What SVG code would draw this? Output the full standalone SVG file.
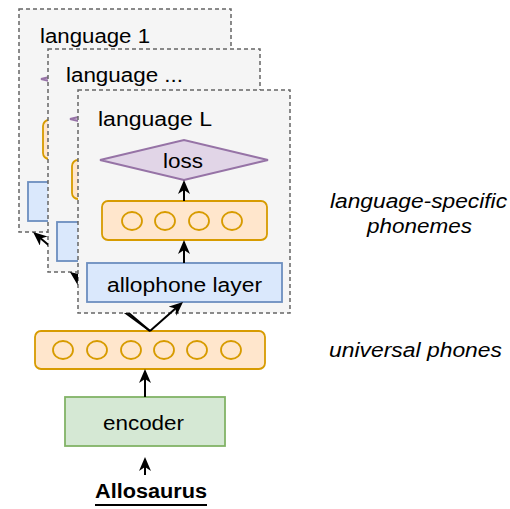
<svg xmlns="http://www.w3.org/2000/svg" width="510" height="509" viewBox="0 0 510 509">
<style>
.frame{fill:#f5f5f5;stroke:#666666;stroke-width:1.5;stroke-dasharray:4 3}
.orange{fill:#ffe6cc;stroke:#d79b00;stroke-width:1.8}
.circ{fill:none;stroke:#d79b00;stroke-width:1.8}
.blue{fill:#dae8fc;stroke:#6c8ebf;stroke-width:1.8}
.green{fill:#d5e8d4;stroke:#82b366;stroke-width:1.8}
.purple{fill:#e1d5e7;stroke:#9673a6;stroke-width:1.8}
.t{font-family:"Liberation Sans",Arial,Helvetica,sans-serif;font-size:20px;fill:#000}
.it{font-style:italic}
.b{font-weight:bold}
.edge{fill:none;stroke:#000;stroke-width:2}
</style>
<defs>
<marker id="arr" viewBox="0 0 14 12" refX="10" refY="6" markerWidth="14" markerHeight="12" markerUnits="userSpaceOnUse" orient="auto">
<path d="M0,0 L14,6 L0,12 L4,6 Z" fill="#000"/>
</marker>
<mask id="m1" maskUnits="userSpaceOnUse" x="0" y="0" width="510" height="509">
<rect x="0" y="0" width="510" height="509" fill="#fff"/>
<rect x="48" y="49" width="212" height="223" fill="#000"/>
<rect x="78" y="90" width="212" height="223" fill="#000"/>
</mask>
<mask id="m2" maskUnits="userSpaceOnUse" x="0" y="0" width="510" height="509">
<rect x="0" y="0" width="510" height="509" fill="#fff"/>
<rect x="78" y="90" width="212" height="223" fill="#000"/>
</mask>
</defs>

<g id="frame-language-1">
<rect class="frame" x="19" y="9" width="212" height="223"/>
<text class="t" x="40" y="43" textLength="110" lengthAdjust="spacingAndGlyphs">language 1</text>
<polygon class="purple" points="41,79 125,59 209,79 125,99"/>
<rect class="orange" x="43" y="120" width="165" height="39" rx="6"/>
<rect class="blue" x="28" y="182" width="195" height="39"/>
</g>

<g id="frame-language-dots">
<rect class="frame" x="48" y="49" width="212" height="223"/>
<text class="t" x="66" y="82" textLength="117" lengthAdjust="spacingAndGlyphs">language ...</text>
<polygon class="purple" points="70,119 154,99 238,119 154,139"/>
<rect class="orange" x="72" y="160" width="165" height="39" rx="6"/>
<rect class="blue" x="57" y="222" width="195" height="39"/>
</g>

<g id="frame-language-L">
<rect class="frame" x="78" y="90" width="212" height="223"/>
<text class="t" x="98" y="126" textLength="114" lengthAdjust="spacingAndGlyphs">language L</text>
</g>

<g id="loss">
<polygon class="purple" points="100,160 184,140 268,160 184,180"/>
<text class="t" x="163" y="168" textLength="40" lengthAdjust="spacingAndGlyphs">loss</text>
</g>

<g id="phoneme-layer">
<rect class="orange" x="102" y="201" width="165" height="39" rx="6"/>
<ellipse class="circ" cx="132" cy="221" rx="10" ry="9"/>
<ellipse class="circ" cx="165" cy="221" rx="10" ry="9"/>
<ellipse class="circ" cx="199" cy="221" rx="10" ry="9"/>
<ellipse class="circ" cx="232" cy="221" rx="10" ry="9"/>
</g>

<g id="allophone-layer">
<rect class="blue" x="87" y="263" width="195" height="39"/>
<text class="t" x="107" y="292" textLength="155" lengthAdjust="spacingAndGlyphs">allophone layer</text>
</g>

<g id="universal-phones">
<rect class="orange" x="35" y="331" width="230" height="38" rx="6"/>
<ellipse class="circ" cx="63" cy="350" rx="10" ry="9"/>
<ellipse class="circ" cx="97" cy="350" rx="10" ry="9"/>
<ellipse class="circ" cx="131" cy="350" rx="10" ry="9"/>
<ellipse class="circ" cx="164" cy="350" rx="10" ry="9"/>
<ellipse class="circ" cx="197" cy="350" rx="10" ry="9"/>
<ellipse class="circ" cx="231" cy="350" rx="10" ry="9"/>
</g>

<g id="encoder">
<rect class="green" x="65" y="397" width="160" height="49"/>
<text class="t" x="103" y="430" textLength="81" lengthAdjust="spacingAndGlyphs">encoder</text>
</g>

<g id="allosaurus">
<text class="t b" x="95" y="498" textLength="112" lengthAdjust="spacingAndGlyphs">Allosaurus</text>
<line x1="95" y1="505" x2="207" y2="505" stroke="#000" stroke-width="2"/>
</g>

<g id="annotations">
<text class="t it" x="330" y="208" textLength="177" lengthAdjust="spacingAndGlyphs">language-specific</text>
<text class="t it" x="367" y="233" textLength="105" lengthAdjust="spacingAndGlyphs">phonemes</text>
<text class="t it" x="329" y="357" textLength="173" lengthAdjust="spacingAndGlyphs">universal phones</text>
</g>

<g id="connectors">
<path class="edge" d="M150,331 L36.1,234.6" marker-end="url(#arr)" mask="url(#m1)"/>
<path class="edge" d="M150,331 L73.2,274.4" marker-end="url(#arr)" mask="url(#m2)"/>
<path class="edge" d="M150,331 L180,304.6" marker-end="url(#arr)"/>
<path class="edge" d="M184,263 L184,244" marker-end="url(#arr)"/>
<path class="edge" d="M184,201 L184,184" marker-end="url(#arr)"/>
<path class="edge" d="M145,397 L145,373" marker-end="url(#arr)"/>
<path class="edge" d="M145,475 L145,461" marker-end="url(#arr)"/>
</g>
</svg>
